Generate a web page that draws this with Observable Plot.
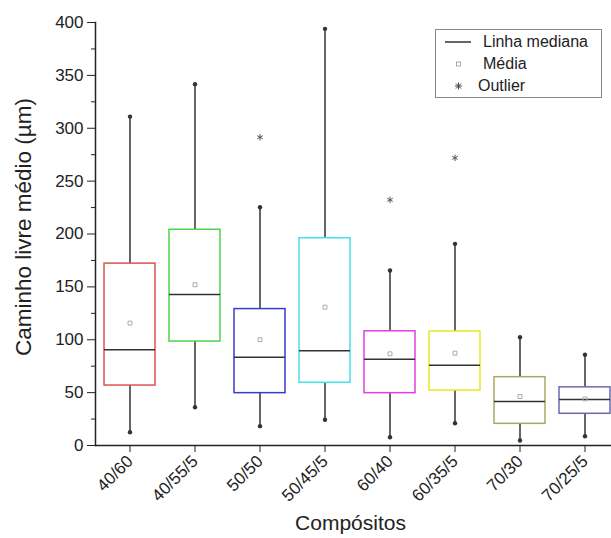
<!DOCTYPE html>
<html>
<head>
<meta charset="utf-8">
<script src="https://cdn.jsdelivr.net/npm/d3@7"></script>
<script src="https://cdn.jsdelivr.net/npm/@observablehq/plot@0.6"></script>
<style>
  body { margin: 0; background: #fff; font-family: "Liberation Sans", Arial, sans-serif; }
  #wrap { position: relative; width: 611px; height: 538px; overflow: hidden; }
  #legend { position: absolute; left: 435px; top: 29px; width: 167px; height: 69px; border: 1px solid #888; background: #fff; font-size: 16px; color: #222; box-sizing: border-box; }
  #legend .row { position: absolute; left: 0; height: 20px; line-height: 20px; white-space: nowrap; }
  #legend svg { position: absolute; left: 0; top: 0; }
</style>
</head>
<body>
<div id="wrap">
  <div id="chart"></div>
  <div id="legend">
    <div class="row" style="top:2px"><svg width="40" height="20"><line x1="9" x2="35" y1="10" y2="10" stroke="#333" stroke-width="1.5"/></svg><span style="position:absolute;left:47px">Linha mediana</span></div>
    <div class="row" style="top:24px"><svg width="40" height="20"><rect x="20.5" y="8" width="4" height="4" fill="none" stroke="#aaa"/></svg><span style="position:absolute;left:47px">Média</span></div>
    <div class="row" style="top:46px"><svg width="40" height="20"><g stroke="#444" stroke-width="1"><line x1="19" x2="26" y1="10" y2="10"/><line x1="22.5" x2="22.5" y1="6.5" y2="13.5"/><line x1="20" x2="25" y1="7.5" y2="12.5"/><line x1="20" x2="25" y1="12.5" y2="7.5"/></g></svg><span style="position:absolute;left:42px">Outlier</span></div>
  </div>
</div>
<script>
const categories = ["40/60", "40/55/5", "50/50", "50/45/5", "60/40", "60/35/5", "70/30", "70/25/5"];
const whiskerLow  = [12.6, 36.2, 18.3, 24.3, 7.8, 21, 4.7, 8.8];
const q1          = [56.7, 98.3, 49.5, 59.3, 49.5, 52, 20.5, 30];
const median      = [90.5, 142.8, 83.5, 89.5, 81.6, 76, 41.6, 43.5];
const q3          = [172, 204, 129, 196, 108, 107.8, 64.6, 55];
const whiskerHigh = [311, 341.7, 225.3, 394, 165.5, 190.7, 102.4, 85.8];
const mean        = [115.7, 152, 100, 130.8, 86.7, 87.3, 46.3, 44];
const outlierCat  = ["50/50", "60/40", "60/35/5"];
const outlierVal  = [291.5, 232.3, 272];
const boxColors   = ["#d9534f", "#4cd44c", "#3a3ad0", "#45e0e8", "#e040e0", "#e8e820", "#a8a86a", "#6a6ab0"];
const yTicks = [0, 50, 100, 150, 200, 250, 300, 350, 400];
const yMinorTicks = [25, 75, 125, 175, 225, 275, 325, 375];

const rows = categories.map((c, i) => ({
  cat: c, lo: whiskerLow[i], q1: q1[i], med: median[i], q3: q3[i], hi: whiskerHigh[i], mean: mean[i], color: boxColors[i]
}));
const outliers = outlierCat.map((c, i) => ({cat: c, v: outlierVal[i]}));
const caps = rows.flatMap(d => [{cat: d.cat, v: d.lo}, {cat: d.cat, v: d.hi}]);

const chart = Plot.plot({
  width: 611,
  height: 538,
  marginLeft: 95,
  marginRight: 0,
  marginTop: 22,
  marginBottom: 93,
  style: {fontFamily: "Liberation Sans, Arial, sans-serif", fontSize: "17px", color: "#222", background: "#fff"},
  x: {domain: categories, range: [95, 619], padding: 0, label: null},
  y: {domain: [0, 400], range: [445, 22], label: null},
  marks: [
    Plot.ruleX(rows, {x: "cat", y1: "lo", y2: "q1", stroke: "#333", strokeWidth: 1.5}),
    Plot.ruleX(rows, {x: "cat", y1: "q3", y2: "hi", stroke: "#333", strokeWidth: 1.5}),
    Plot.barY(rows, {x: "cat", y1: "q1", y2: "q3", fill: "white", stroke: d => d.color, strokeWidth: 1.5, insetLeft: 7, insetRight: 7}),
    Plot.tickY(rows, {x: "cat", y: "med", stroke: "#333", strokeWidth: 1.5, insetLeft: 7, insetRight: 7}),
    Plot.dot(caps, {x: "cat", y: "v", r: 2.2, fill: "#333", stroke: "none"}),
    Plot.dot(rows, {x: "cat", y: "mean", symbol: "square", r: 2.2, stroke: "#aaa", strokeWidth: 1, fill: "none"}),
    Plot.dot(outliers, {x: "cat", y: "v", symbol: "asterisk", r: 3, stroke: "#555", strokeWidth: 1}),
    Plot.axisY({ticks: yTicks, tickSize: 8, tickPadding: 4, label: null, fontSize: 17}),
    Plot.axisY({ticks: yMinorTicks, tickSize: 4, tickFormat: () => "", label: null}),
    Plot.axisX({tickSize: 7, tickRotate: -45, tickPadding: 6, label: null, fontSize: 17}),
    Plot.ruleY([0], {stroke: "#222", strokeWidth: 1.5}),
    Plot.frame({anchor: "left", stroke: "#222", strokeWidth: 1.5}),
    Plot.text(["Caminho livre médio (µm)"], {frameAnchor: "left", textAnchor: "middle", dx: -72, dy: -7, rotate: -90, fontSize: 22.5, fill: "#222"}),
    Plot.text(["Compósitos"], {frameAnchor: "bottom", dy: 84, fontSize: 21, fill: "#222", dx: -3})
  ]
});
document.getElementById("chart").appendChild(chart);
</script>
</body>
</html>
